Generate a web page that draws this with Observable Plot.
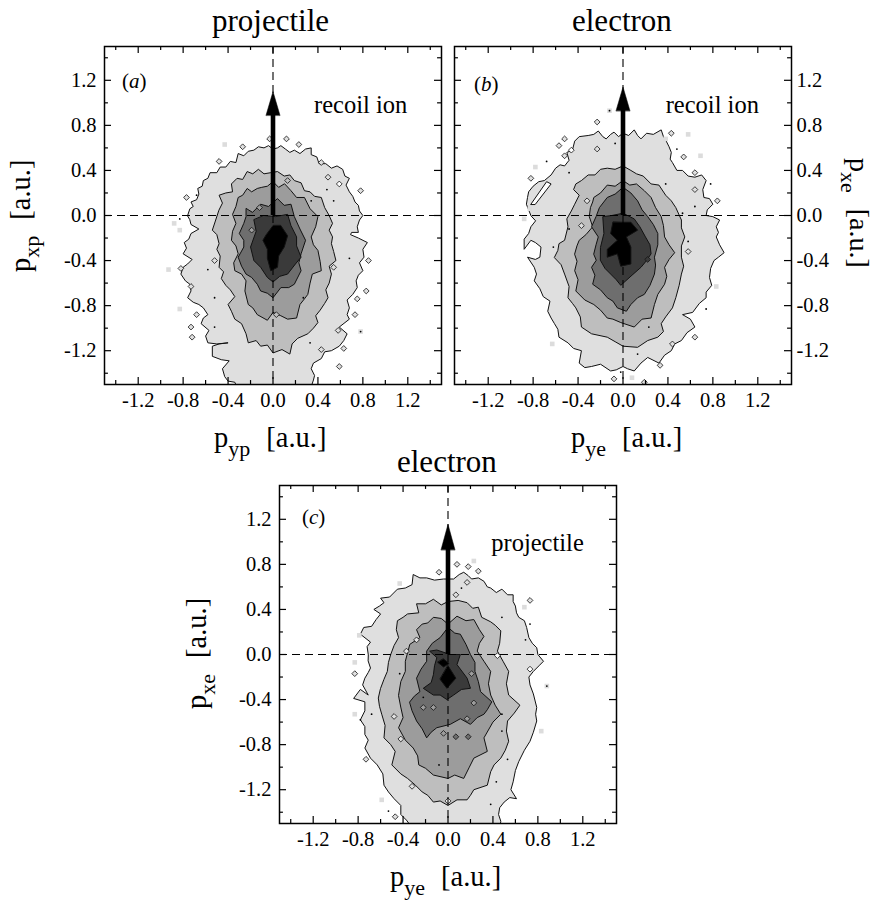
<!DOCTYPE html>
<html>
<head>
<meta charset="utf-8">
<script src="https://cdn.jsdelivr.net/npm/d3@7"></script>
<script src="https://cdn.jsdelivr.net/npm/@observablehq/plot@0.6"></script>
<style>
html,body{margin:0;padding:0;background:#fff;}
#page{position:relative;width:874px;height:903px;overflow:hidden;font-family:"Liberation Serif",serif;color:#000;}
#page svg{position:absolute;overflow:visible;background:transparent;}
.t{position:absolute;line-height:1;white-space:nowrap;}
.title{font-size:31px;}
.lab{font-size:28.5px;}
.lab sub{font-size:22px;vertical-align:-9px;line-height:0;margin-right:16px;}
.tag{font-size:21px;}
</style>
</head>
<body>
<div id="page">
<div class="t title" style="left:212px;top:5px">projectile</div>
<div class="t title" style="left:572px;top:5px">electron</div>
<div class="t title" style="left:397px;top:446px">electron</div>
<div class="t lab" style="left:214px;top:424px">p<sub>yp</sub>[a.u.]</div>
<div class="t lab" style="left:571px;top:424px">p<sub>ye</sub>[a.u.]</div>
<div class="t lab" style="left:390px;top:863px">p<sub>ye</sub>[a.u.]</div>
<div class="t lab" style="left:7px;top:272px;transform-origin:0 0;transform:rotate(-90deg)">p<sub>xp</sub>[a.u.]</div>
<div class="t lab" style="left:872.5px;top:158px;font-size:28px;transform-origin:0 0;transform:rotate(90deg)">p<sub>xe</sub>[a.u.]</div>
<div class="t lab" style="left:183px;top:709px;transform-origin:0 0;transform:rotate(-90deg)">p<sub>xe</sub>[a.u.]</div>
<div class="t tag" style="left:122px;top:71px;z-index:3">(<i>a</i>)</div>
<div class="t tag" style="left:474px;top:74px;z-index:3">(<i>b</i>)</div>
<div class="t tag" style="left:302px;top:507px;z-index:3">(<i>c</i>)</div>
</div>
<script>
const majorTicks = [-1.2,-0.8,-0.4,0,0.4,0.8,1.2];
const minorTicks = [-1.4,-1.0,-0.6,-0.2,0.2,0.6,1.0,1.4];
const levelColors = ["#ffffff","#dfdfdf","#bebebe","#9c9c9c","#6e6e6e","#3a3a3a","#000000"];

// Panel (a)
const a1 = [[-0.76,0],[-0.74,0.06],[-0.71,0.08],[-0.73,0.12],[-0.68,0.14],[-0.66,0.19],[-0.67,0.24],[-0.63,0.26],[-0.62,0.31],[-0.58,0.33],[-0.56,0.38],[-0.50,0.38],[-0.47,0.43],[-0.42,0.43],[-0.38,0.48],[-0.33,0.47],[-0.31,0.55],[-0.26,0.53],[-0.22,0.57],[-0.17,0.58],[-0.13,0.61],[-0.08,0.60],[-0.04,0.62],[0,0.59],[0.04,0.60],[0.07,0.62],[0.11,0.59],[0.15,0.56],[0.19,0.58],[0.24,0.55],[0.29,0.59],[0.34,0.60],[0.34,0.54],[0.39,0.52],[0.41,0.46],[0.47,0.46],[0.52,0.42],[0.57,0.44],[0.62,0.41],[0.64,0.35],[0.68,0.33],[0.65,0.27],[0.68,0.21],[0.71,0.17],[0.73,0.12],[0.76,0.09],[0.77,0.04],[0.80,0],[0.77,-0.04],[0.75,-0.10],[0.76,-0.15],[0.70,-0.15],[0.69,-0.17],[0.76,-0.20],[0.84,-0.24],[0.80,-0.30],[0.81,-0.37],[0.77,-0.42],[0.80,-0.49],[0.76,-0.53],[0.74,-0.58],[0.75,-0.64],[0.71,-0.70],[0.66,-0.75],[0.68,-0.82],[0.66,-0.88],[0.68,-0.92],[0.59,-0.99],[0.66,-1.05],[0.63,-1.11],[0.59,-1.16],[0.52,-1.20],[0.46,-1.21],[0.43,-1.27],[0.36,-1.31],[0.34,-1.36],[0.37,-1.42],[0.36,-1.46],[0.33,-1.55],[-0.31,-1.55],[-0.34,-1.48],[-0.40,-1.47],[-0.43,-1.43],[-0.45,-1.36],[-0.39,-1.29],[-0.46,-1.28],[-0.54,-1.25],[-0.54,-1.16],[-0.48,-1.14],[-0.40,-1.13],[-0.50,-1.14],[-0.58,-1.13],[-0.60,-1.07],[-0.57,-1.02],[-0.64,-0.96],[-0.62,-0.91],[-0.58,-0.88],[-0.62,-0.82],[-0.66,-0.79],[-0.71,-0.77],[-0.76,-0.73],[-0.73,-0.67],[-0.74,-0.61],[-0.78,-0.58],[-0.82,-0.52],[-0.80,-0.46],[-0.76,-0.43],[-0.72,-0.39],[-0.80,-0.34],[-0.77,-0.29],[-0.79,-0.24],[-0.75,-0.21],[-0.73,-0.16],[-0.66,-0.12],[-0.73,-0.08],[-0.74,-0.04]];
const a2 = [[-0.52,-0.07],[-0.54,-0.13],[-0.50,-0.17],[-0.48,-0.25],[-0.50,-0.30],[-0.47,-0.36],[-0.48,-0.46],[-0.44,-0.50],[-0.46,-0.56],[-0.42,-0.62],[-0.38,-0.66],[-0.34,-0.72],[-0.40,-0.79],[-0.37,-0.85],[-0.34,-0.92],[-0.28,-0.96],[-0.24,-1.05],[-0.22,-1.13],[-0.15,-1.11],[-0.11,-1.16],[-0.05,-1.15],[0,-1.22],[0.08,-1.19],[0.15,-1.23],[0.17,-1.14],[0.22,-1.09],[0.31,-1.05],[0.36,-1.00],[0.40,-0.95],[0.38,-0.89],[0.42,-0.84],[0.46,-0.78],[0.49,-0.73],[0.47,-0.66],[0.50,-0.60],[0.52,-0.52],[0.50,-0.45],[0.56,-0.40],[0.54,-0.32],[0.52,-0.25],[0.53,-0.19],[0.50,-0.13],[0.53,-0.07],[0.50,0],[0.46,0.07],[0.43,0.16],[0.37,0.17],[0.33,0.21],[0.28,0.22],[0.25,0.29],[0.19,0.31],[0.15,0.36],[0.10,0.35],[0.04,0.39],[-0.02,0.38],[-0.08,0.37],[-0.13,0.41],[-0.18,0.37],[-0.23,0.39],[-0.27,0.32],[-0.32,0.33],[-0.37,0.28],[-0.36,0.21],[-0.42,0.20],[-0.48,0.18],[-0.45,0.11],[-0.48,0.05]];
const a3 = [[0.10,0.28],[0.05,0.25],[0,0.30],[-0.05,0.26],[-0.10,0.25],[-0.14,0.24],[-0.19,0.21],[-0.23,0.24],[-0.27,0.18],[-0.31,0.16],[-0.33,0.08],[-0.36,0.01],[-0.33,-0.07],[-0.36,-0.14],[-0.37,-0.22],[-0.33,-0.27],[-0.31,-0.34],[-0.35,-0.42],[-0.34,-0.49],[-0.28,-0.52],[-0.24,-0.58],[-0.25,-0.67],[-0.22,-0.79],[-0.18,-0.82],[-0.14,-0.88],[-0.05,-0.93],[0,-0.86],[0.07,-0.89],[0.13,-0.92],[0.21,-0.91],[0.24,-0.79],[0.28,-0.74],[0.31,-0.70],[0.33,-0.60],[0.35,-0.52],[0.43,-0.49],[0.42,-0.41],[0.40,-0.31],[0.36,-0.26],[0.34,-0.19],[0.38,-0.10],[0.40,-0.01],[0.33,0.06],[0.28,0.16],[0.21,0.16],[0.16,0.22]];
const a4 = [[-0.24,0.06],[-0.24,-0.01],[-0.26,-0.07],[-0.30,-0.16],[-0.26,-0.22],[-0.26,-0.28],[-0.31,-0.37],[-0.28,-0.45],[-0.24,-0.52],[-0.19,-0.55],[-0.14,-0.61],[-0.11,-0.67],[-0.05,-0.69],[0,-0.73],[0.07,-0.64],[0.14,-0.64],[0.19,-0.61],[0.25,-0.49],[0.23,-0.42],[0.25,-0.34],[0.29,-0.22],[0.24,-0.12],[0.19,-0.01],[0.16,0.10],[0.10,0.09],[0.04,0.15],[-0.04,0.08],[-0.11,0.10],[-0.18,0.03]];
const a5 = [[-0.17,-0.04],[-0.15,-0.14],[-0.20,-0.28],[-0.17,-0.40],[-0.11,-0.46],[-0.05,-0.55],[0,-0.59],[0.06,-0.54],[0.13,-0.52],[0.20,-0.43],[0.25,-0.37],[0.21,-0.27],[0.21,-0.19],[0.16,-0.09],[0.13,0.01],[0.02,-0.01],[-0.08,0]];
const a6 = [[0,-0.09],[-0.06,-0.17],[-0.09,-0.22],[-0.05,-0.30],[-0.05,-0.38],[-0.02,-0.49],[0.04,-0.46],[0.05,-0.36],[0.10,-0.28],[0.13,-0.18],[0.07,-0.09]];
const aIslands = [[-0.27,0.61,1],[-0.03,0.68,1],[0.12,0.68,1],[0.23,0.63,1],[-0.48,0.48,1],[-0.77,0.16,1],[0.43,0.47,1],[0.49,0.34,1],[0.78,0.22,1],[-0.82,-0.47,1],[-0.73,-0.63,1],[-0.68,-0.88,1],[-0.73,-0.99,1],[-0.72,-1.08,1],[0.75,-0.74,1],[0.73,-0.88,1],[0.58,-1.02,1],[0.85,-0.40,1],[0.54,-0.46,1],[0.63,-1.18,1],[0.59,-1.34,1],[0.43,-1.19,1],[-0.52,-0.40,1],[0.83,-0.67,1],[0.59,0.28,0],[-0.19,-0.13,3],[-0.12,0.07,3],[0.13,0.31,2],[0.03,-0.88,2]];
const aSquares = [[-0.43,0.63],[-0.93,-0.48],[-0.83,-0.83],[0.78,-1.03],[-0.83,-0.13],[-0.88,-0.07]];
const aDots = [[-0.83,-0.03],[-0.68,0.18],[0.54,0.13],[0.34,0.13],[0.48,0.23],[0.68,-0.38],[-0.58,-0.48],[-0.52,-0.73],[0.78,-1.03],[0.27,-0.73],[0.33,-1.13],[-0.52,-0.99]];

// Panel (b)
const b1 = [[-0.82,0],[-0.84,0.05],[-0.86,0.10],[-0.85,0.16],[-0.84,0.21],[-0.80,0.26],[-0.75,0.30],[-0.70,0.31],[-0.64,0.36],[-0.60,0.42],[-0.56,0.45],[-0.52,0.44],[-0.48,0.49],[-0.50,0.56],[-0.45,0.58],[-0.43,0.66],[-0.39,0.70],[-0.31,0.71],[-0.26,0.72],[-0.22,0.75],[-0.18,0.70],[-0.15,0.68],[-0.11,0.72],[-0.08,0.74],[-0.04,0.70],[0,0.73],[0.05,0.71],[0.10,0.76],[0.13,0.71],[0.16,0.68],[0.21,0.73],[0.27,0.72],[0.34,0.76],[0.36,0.70],[0.38,0.67],[0.41,0.61],[0.43,0.56],[0.42,0.50],[0.44,0.47],[0.48,0.40],[0.53,0.40],[0.58,0.35],[0.64,0.34],[0.70,0.36],[0.74,0.31],[0.71,0.23],[0.72,0.16],[0.77,0.15],[0.80,0.10],[0.75,0.05],[0.74,0],[0.80,-0.01],[0.86,-0.04],[0.83,-0.10],[0.85,-0.15],[0.83,-0.19],[0.86,-0.26],[0.90,-0.33],[0.85,-0.37],[0.81,-0.40],[0.78,-0.47],[0.77,-0.55],[0.79,-0.62],[0.74,-0.68],[0.74,-0.73],[0.68,-0.78],[0.62,-0.86],[0.53,-0.88],[0.60,-0.92],[0.64,-0.99],[0.57,-1.04],[0.52,-1.11],[0.46,-1.14],[0.43,-1.20],[0.37,-1.24],[0.32,-1.31],[0.22,-1.26],[0.16,-1.31],[0.10,-1.38],[0.04,-1.36],[0,-1.34],[-0.06,-1.37],[-0.11,-1.38],[-0.20,-1.32],[-0.28,-1.34],[-0.34,-1.35],[-0.39,-1.31],[-0.37,-1.20],[-0.44,-1.18],[-0.49,-1.13],[-0.57,-1.08],[-0.58,-1.01],[-0.61,-0.96],[-0.64,-0.91],[-0.67,-0.85],[-0.65,-0.76],[-0.71,-0.72],[-0.74,-0.65],[-0.79,-0.58],[-0.77,-0.52],[-0.79,-0.46],[-0.85,-0.37],[-0.78,-0.39],[-0.74,-0.37],[-0.73,-0.28],[-0.78,-0.24],[-0.82,-0.22],[-0.88,-0.30],[-0.88,-0.21],[-0.84,-0.16],[-0.82,-0.10],[-0.78,-0.05]];
const b2 = [[-0.61,-0.37],[-0.58,-0.31],[-0.57,-0.25],[-0.52,-0.22],[-0.49,-0.10],[-0.50,-0.03],[-0.46,0.04],[-0.43,0.10],[-0.39,0.18],[-0.44,0.23],[-0.42,0.28],[-0.37,0.31],[-0.31,0.36],[-0.25,0.36],[-0.20,0.41],[-0.14,0.42],[-0.07,0.41],[0,0.44],[0.07,0.40],[0.12,0.37],[0.18,0.35],[0.25,0.28],[0.32,0.27],[0.38,0.18],[0.43,0.13],[0.47,0.07],[0.52,-0.04],[0.52,-0.11],[0.55,-0.19],[0.52,-0.27],[0.52,-0.37],[0.54,-0.45],[0.52,-0.52],[0.50,-0.62],[0.47,-0.73],[0.44,-0.82],[0.38,-0.90],[0.34,-0.96],[0.36,-1.03],[0.31,-1.08],[0.22,-1.11],[0.13,-1.17],[0,-1.16],[-0.07,-1.12],[-0.14,-1.08],[-0.28,-1.05],[-0.37,-0.99],[-0.38,-0.90],[-0.42,-0.82],[-0.45,-0.78],[-0.49,-0.73],[-0.48,-0.63],[-0.52,-0.52],[-0.55,-0.44]];
const b3 = [[-0.43,-0.34],[-0.41,-0.27],[-0.39,-0.22],[-0.33,-0.17],[-0.27,-0.10],[-0.30,-0.01],[-0.29,0.07],[-0.27,0.12],[-0.26,0.16],[-0.20,0.20],[-0.14,0.27],[-0.07,0.26],[0,0.31],[0.06,0.27],[0.12,0.28],[0.19,0.22],[0.25,0.16],[0.29,0.07],[0.34,-0.01],[0.36,-0.09],[0.37,-0.19],[0.41,-0.26],[0.46,-0.33],[0.41,-0.39],[0.37,-0.46],[0.39,-0.54],[0.37,-0.61],[0.31,-0.70],[0.28,-0.79],[0.25,-0.91],[0.17,-0.92],[0.10,-0.99],[-0.02,-0.95],[-0.09,-0.92],[-0.14,-0.91],[-0.20,-0.84],[-0.26,-0.79],[-0.34,-0.75],[-0.42,-0.67],[-0.40,-0.57],[-0.43,-0.49],[-0.41,-0.41]];
const b4 = [[-0.26,-0.34],[-0.24,-0.26],[-0.22,-0.19],[-0.28,-0.10],[-0.24,-0.01],[-0.21,0.07],[-0.14,0.16],[-0.07,0.19],[0,0.25],[0.07,0.20],[0.13,0.13],[0.17,0.05],[0.22,-0.01],[0.27,-0.08],[0.31,-0.16],[0.31,-0.26],[0.28,-0.37],[0.29,-0.44],[0.28,-0.52],[0.24,-0.62],[0.19,-0.70],[0.13,-0.73],[0.07,-0.79],[0.03,-0.85],[-0.05,-0.82],[-0.09,-0.76],[-0.14,-0.73],[-0.20,-0.66],[-0.27,-0.61],[-0.25,-0.53],[-0.28,-0.46],[-0.24,-0.40]];
const b5 = [[-0.20,-0.28],[-0.17,-0.16],[-0.18,-0.01],[-0.10,0],[0,0.02],[0.10,-0.03],[0.15,-0.10],[0.20,-0.19],[0.24,-0.26],[0.25,-0.34],[0.21,-0.40],[0.16,-0.46],[0.08,-0.53],[-0.02,-0.62],[-0.06,-0.57],[-0.11,-0.52],[-0.16,-0.47],[-0.20,-0.40]];
const b6 = [[-0.09,-0.06],[-0.11,-0.16],[-0.05,-0.22],[-0.14,-0.30],[-0.14,-0.37],[-0.05,-0.34],[-0.02,-0.45],[0.07,-0.43],[0.07,-0.28],[0.03,-0.19],[0.13,-0.13],[0.07,-0.06],[0,-0.06]];
const bHole = [[-0.82,0.10],[-0.68,0.30],[-0.64,0.28],[-0.78,0.10]];
const bIslands = [[-0.23,0.83,1],[0.43,0.73,1],[-0.52,0.68,1],[-0.57,0.62,1],[-0.46,0.58,0],[-0.52,0.53,1],[-0.23,0.59,1],[0.64,0.38,1],[-0.82,0.33,1],[0.84,0.13,1],[0.64,0.23,1],[0.58,-0.32,1],[0.64,-1.08,1],[0.44,-1.14,1],[0.33,-1.33,1],[-0.08,-1.45,1],[0.19,-1.48,1],[0.54,0.52,1],[-0.37,-0.09,1],[-0.32,0.13,1],[0.22,-0.39,5]];
const bSquares = [[-0.12,0.93],[0.58,0.72],[0.38,0.68],[-0.78,0.43],[0.69,0.53],[0.83,-0.63],[-0.63,-1.14],[-0.88,-0.03],[-0.83,0.06],[0.08,-1.44]];
const bDots = [[-0.12,0.93],[-0.68,0.48],[-0.48,0.38],[-0.07,0.64],[0.48,0.59],[0.38,0.28],[0.78,0.28],[0.64,0.08],[0.53,0.02],[0.58,-0.23],[0.74,-0.83],[0.23,-0.99],[0.13,-1.23],[-0.02,-1.39],[-0.48,-0.12],[-0.62,-0.28]];

// Panel (c)
const c1 = [[-0.71,0],[-0.72,0.07],[-0.69,0.11],[-0.78,0.18],[-0.75,0.24],[-0.68,0.25],[-0.64,0.31],[-0.60,0.36],[-0.66,0.40],[-0.61,0.43],[-0.57,0.46],[-0.60,0.50],[-0.52,0.51],[-0.45,0.58],[-0.38,0.59],[-0.32,0.62],[-0.31,0.71],[-0.25,0.68],[-0.19,0.68],[-0.12,0.66],[-0.04,0.67],[0.05,0.67],[0.10,0.71],[0.14,0.73],[0.18,0.70],[0.21,0.67],[0.27,0.68],[0.32,0.65],[0.35,0.60],[0.38,0.59],[0.43,0.55],[0.48,0.58],[0.53,0.53],[0.58,0.53],[0.58,0.47],[0.60,0.43],[0.61,0.37],[0.63,0.33],[0.68,0.30],[0.70,0.24],[0.72,0.15],[0.75,0.10],[0.79,0.06],[0.80,0],[0.85,-0.06],[0.81,-0.10],[0.76,-0.15],[0.72,-0.20],[0.73,-0.27],[0.76,-0.35],[0.79,-0.47],[0.78,-0.53],[0.79,-0.59],[0.76,-0.69],[0.73,-0.77],[0.68,-0.85],[0.63,-0.95],[0.60,-1.03],[0.58,-1.13],[0.56,-1.20],[0.61,-1.28],[0.55,-1.27],[0.50,-1.31],[0.46,-1.36],[0.45,-1.42],[0.47,-1.48],[0.46,-1.55],[-0.31,-1.55],[-0.37,-1.47],[-0.42,-1.42],[-0.42,-1.34],[-0.48,-1.28],[-0.53,-1.22],[-0.57,-1.16],[-0.58,-1.06],[-0.63,-0.98],[-0.69,-0.92],[-0.74,-0.83],[-0.71,-0.76],[-0.74,-0.71],[-0.74,-0.64],[-0.78,-0.58],[-0.74,-0.50],[-0.74,-0.42],[-0.84,-0.39],[-0.78,-0.31],[-0.71,-0.36],[-0.76,-0.27],[-0.74,-0.21],[-0.71,-0.16],[-0.69,-0.12],[-0.71,-0.06]];
const c2 = [[-0.60,-0.30],[-0.57,-0.22],[-0.54,-0.15],[-0.53,-0.07],[-0.51,0],[-0.48,0.08],[-0.44,0.15],[-0.46,0.22],[-0.45,0.30],[-0.40,0.33],[-0.36,0.36],[-0.26,0.37],[-0.28,0.45],[-0.20,0.45],[-0.13,0.49],[-0.06,0.44],[0,0.47],[0.09,0.48],[0.17,0.46],[0.22,0.41],[0.27,0.42],[0.30,0.33],[0.38,0.29],[0.42,0.26],[0.47,0.21],[0.46,0.10],[0.44,0.03],[0.49,-0.06],[0.54,-0.15],[0.52,-0.26],[0.54,-0.36],[0.64,-0.45],[0.59,-0.52],[0.53,-0.59],[0.52,-0.68],[0.54,-0.77],[0.51,-0.85],[0.47,-0.92],[0.41,-0.98],[0.38,-1.04],[0.35,-1.16],[0.23,-1.20],[0.20,-1.25],[0.17,-1.29],[0.08,-1.29],[0,-1.34],[-0.07,-1.30],[-0.13,-1.31],[-0.18,-1.25],[-0.23,-1.22],[-0.29,-1.16],[-0.36,-1.10],[-0.42,-1.06],[-0.50,-0.98],[-0.47,-0.86],[-0.51,-0.80],[-0.57,-0.74],[-0.56,-0.63],[-0.59,-0.53],[-0.61,-0.46],[-0.62,-0.39]];
const c3 = [[-0.44,-0.36],[-0.42,-0.24],[-0.38,-0.15],[-0.38,-0.06],[-0.34,0.09],[-0.25,0.15],[-0.28,0.22],[-0.23,0.27],[-0.18,0.28],[-0.13,0.33],[-0.06,0.32],[0,0.27],[0.08,0.34],[0.16,0.30],[0.23,0.31],[0.28,0.22],[0.32,0.16],[0.28,0.10],[0.26,0.03],[0.32,-0.06],[0.38,-0.15],[0.36,-0.26],[0.38,-0.36],[0.42,-0.45],[0.47,-0.53],[0.40,-0.60],[0.32,-0.74],[0.35,-0.86],[0.23,-0.92],[0.19,-1.00],[0.14,-1.10],[0.06,-1.07],[0,-1.10],[-0.13,-1.07],[-0.20,-1.01],[-0.26,-0.98],[-0.27,-0.90],[-0.31,-0.83],[-0.38,-0.76],[-0.44,-0.65],[-0.40,-0.56],[-0.42,-0.47]];
const c4 = [[-0.34,-0.42],[-0.30,-0.37],[-0.25,-0.33],[-0.28,-0.21],[-0.24,-0.13],[-0.19,-0.06],[-0.19,0.03],[-0.14,0.10],[-0.07,0.15],[0,0.24],[0.06,0.19],[0.11,0.18],[0.16,0.09],[0.20,0],[0.24,-0.07],[0.24,-0.15],[0.27,-0.24],[0.29,-0.33],[0.39,-0.42],[0.35,-0.49],[0.32,-0.53],[0.26,-0.56],[0.20,-0.62],[0.11,-0.57],[0.02,-0.62],[-0.10,-0.65],[-0.15,-0.69],[-0.19,-0.74],[-0.23,-0.66],[-0.28,-0.59],[-0.32,-0.50]];
const c5 = [[-0.16,0.03],[-0.10,0.04],[0.02,0],[0.11,0],[0.08,-0.09],[0.17,-0.21],[0.20,-0.30],[0.12,-0.31],[0.05,-0.36],[-0.01,-0.40],[-0.07,-0.36],[-0.13,-0.36],[-0.22,-0.30],[-0.15,-0.25],[-0.13,-0.18],[-0.12,-0.10],[-0.10,-0.03]];
const c6 = [[0,-0.10],[0.07,-0.21],[-0.01,-0.30],[-0.07,-0.22]];
const c6b = [[-0.04,-0.04],[0.01,-0.08],[-0.04,-0.11],[-0.09,-0.07]];
const cIslands = [[-0.08,0.73,1],[0.08,0.80,1],[0.18,0.78,1],[0.27,0.74,1],[0.17,0.64,1],[0.07,0.53,1],[0.73,0.48,1],[-0.83,-0.17,1],[-0.73,-0.93,1],[-0.32,-1.17,1],[-0.47,-1.44,1],[0,-1.30,0],[0.73,-0.13,0],[-0.28,0.13,1],[-0.37,0.03,1],[0.44,-0.01,0],[-0.48,-0.55,1],[-0.42,-0.75,1],[-0.13,-0.47,3],[-0.22,-0.47,3],[0.07,-0.73,4],[0.18,-0.73,4],[-0.04,-0.70,3],[0.23,-0.43,3],[0.21,-0.17,3],[0.17,-0.57,3]];
const cSquares = [[-0.43,0.63],[0.23,0.83],[0.68,0.42],[-0.79,0.17],[-0.83,-0.07],[-0.83,-0.53],[0.83,-0.68],[-0.59,-1.29],[0.88,-0.28]];
const cDots = [[0.88,-0.28],[-0.78,-0.58],[-0.68,-0.53],[-0.53,-1.39],[0.38,-1.33],[0.43,-1.13],[0.53,-0.93],[0.48,0.33],[0.73,0.27],[0.69,0.13],[0.12,0.59],[-0.08,-0.98],[0.48,-0.53],[0.48,-0.68],[-0.43,-0.17],[-0.22,-0.38]];

const arrowTipA = 1.10, arrowBaseA = 0.89;
const arrowTipB = 1.14, arrowBaseB = 0.93;
const arrowTipC = 1.155, arrowBaseC = 0.93;
const arrowHalfWidth = 0.062;

function panel(o) {
  const head = [[-arrowHalfWidth,o.base],[0,o.tip],[arrowHalfWidth,o.base]];
  const marks = [];
  o.polys.forEach(([pts,lv]) => marks.push(Plot.line(pts,{x:d=>d[0],y:d=>d[1],curve:"linear-closed",fill:levelColors[lv],stroke:"#111",strokeWidth:1,clip:true})));
  marks.push(
    Plot.dot(o.squares,{x:d=>d[0],y:d=>d[1],symbol:"square",r:2.6,fill:"#dcdcdc",stroke:"none"}),
    Plot.dot(o.islands,{x:d=>d[0],y:d=>d[1],symbol:"diamond2",r:2.6,fill:d=>levelColors[d[2]],stroke:"#111",strokeWidth:0.8,clip:true}),
    Plot.dot(o.dots,{x:d=>d[0],y:d=>d[1],r:0.9,fill:"#000",stroke:"none"}),
    Plot.ruleX([0],{stroke:"#000",strokeWidth:1.1,strokeDasharray:"8,5"}),
    Plot.ruleY([0],{stroke:"#000",strokeWidth:1.1,strokeDasharray:"8,5"}),
    Plot.ruleX([0],{y1:()=>0,y2:()=>o.base+0.01,stroke:"#000",strokeWidth:4.6}),
    Plot.line(head,{x:d=>d[0],y:d=>d[1],curve:"linear-closed",fill:"#000",stroke:"#000",strokeWidth:0.5}),
    Plot.text([o.note],{x:()=>o.noteX,y:()=>o.noteY,text:d=>d,textAnchor:"start",fontSize:o.noteSize,fill:"#000"}),
    Plot.ruleX(majorTicks,{x:d=>d,y1:()=>-1.5,y2:()=>-1.4375,stroke:"#000",strokeWidth:1.2}),
    Plot.ruleX(majorTicks,{x:d=>d,y1:()=>1.5,y2:()=>1.4375,stroke:"#000",strokeWidth:1.2}),
    Plot.ruleX(minorTicks,{x:d=>d,y1:()=>-1.5,y2:()=>-1.465,stroke:"#000",strokeWidth:1.2}),
    Plot.ruleX(minorTicks,{x:d=>d,y1:()=>1.5,y2:()=>1.465,stroke:"#000",strokeWidth:1.2}),
    Plot.ruleY(majorTicks,{y:d=>d,x1:()=>-1.5,x2:()=>-1.4375,stroke:"#000",strokeWidth:1.2}),
    Plot.ruleY(majorTicks,{y:d=>d,x1:()=>1.5,x2:()=>1.4375,stroke:"#000",strokeWidth:1.2}),
    Plot.ruleY(minorTicks,{y:d=>d,x1:()=>-1.5,x2:()=>-1.465,stroke:"#000",strokeWidth:1.2}),
    Plot.ruleY(minorTicks,{y:d=>d,x1:()=>1.5,x2:()=>1.465,stroke:"#000",strokeWidth:1.2}),
    Plot.frame({stroke:"#000",strokeWidth:1.5}),
    Plot.axisX(majorTicks,{anchor:"bottom",tickSize:0,tickPadding:8,tickFormat:d=>d.toFixed(1),fontSize:20.5,fill:"#000"}),
    Plot.axisY(majorTicks,{anchor:o.yAnchor,tickSize:0,tickPadding:o.yAnchor==="right"?5:8,tickFormat:d=>d.toFixed(1),fontSize:20.5,fill:"#000"})
  );
  const svg = Plot.plot({
    width:o.ml+337+o.mr, height:o.mt+338+o.mb,
    marginLeft:o.ml, marginRight:o.mr, marginTop:o.mt, marginBottom:o.mb,
    x:{domain:[-1.5,1.5],label:null}, y:{domain:[-1.5,1.5],label:null},
    style:{fontFamily:"Liberation Serif",background:"transparent",overflow:"visible"},
    marks
  });
  svg.style.left = o.left+"px"; svg.style.top = o.top+"px";
  document.getElementById("page").appendChild(svg);
}

panel({left:0,top:0,ml:104,mr:9,mt:46,mb:31,yAnchor:"left",tip:arrowTipA,base:arrowBaseA,note:"recoil ion",noteX:0.365,noteY:0.98,noteSize:24.5,
  polys:[[a1,1],[a2,2],[a3,3],[a4,4],[a5,5],[a6,6]],islands:aIslands,squares:aSquares,dots:aDots});
panel({left:450,top:0,ml:4,mr:60,mt:46,mb:31,yAnchor:"right",tip:arrowTipB,base:arrowBaseB,note:"recoil ion",noteX:0.38,noteY:0.98,noteSize:24.5,
  polys:[[b1,1],[bHole,0],[b2,2],[b3,3],[b4,4],[b5,5],[b6,6]],islands:bIslands,squares:bSquares,dots:bDots});
panel({left:200,top:440,ml:79,mr:9,mt:45,mb:38,yAnchor:"left",tip:arrowTipC,base:arrowBaseC,note:"projectile",noteX:0.385,noteY:0.99,noteSize:24.5,
  polys:[[c1,1],[c2,2],[c3,3],[c4,4],[c5,5],[c6,6],[c6b,6]],islands:cIslands,squares:cSquares,dots:cDots});
</script>
</body>
</html>
